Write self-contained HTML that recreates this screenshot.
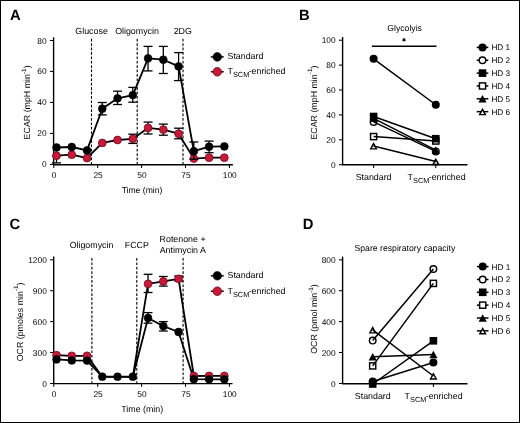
<!DOCTYPE html>
<html><head><meta charset="utf-8"><style>
html,body{margin:0;padding:0;background:#fff;}
svg{display:block;will-change:transform;}
text{font-family:"Liberation Sans",sans-serif;fill:#000;text-rendering:geometricPrecision;}
</style></head><body>
<svg width="520" height="423" viewBox="0 0 520 423">
<g>
<rect x="0" y="0" width="520" height="423" fill="#fff"/>
<text x="9.9" y="19.9" font-size="14.8" text-anchor="start" font-weight="bold" >A</text>
<line x1="53.6" y1="37.3" x2="53.6" y2="164.8" stroke="#000" stroke-width="1.4" />
<line x1="50.0" y1="40.5" x2="53.6" y2="40.5" stroke="#000" stroke-width="1.05" />
<text x="46.7" y="43.5" font-size="8.4" text-anchor="end" font-weight="normal" >80</text>
<line x1="50.0" y1="71.4" x2="53.6" y2="71.4" stroke="#000" stroke-width="1.05" />
<text x="46.7" y="74.4" font-size="8.4" text-anchor="end" font-weight="normal" >60</text>
<line x1="50.0" y1="102.4" x2="53.6" y2="102.4" stroke="#000" stroke-width="1.05" />
<text x="46.7" y="105.4" font-size="8.4" text-anchor="end" font-weight="normal" >40</text>
<line x1="50.0" y1="133.4" x2="53.6" y2="133.4" stroke="#000" stroke-width="1.05" />
<text x="46.7" y="136.4" font-size="8.4" text-anchor="end" font-weight="normal" >20</text>
<line x1="50.0" y1="164.4" x2="53.6" y2="164.4" stroke="#000" stroke-width="1.05" />
<text x="46.7" y="167.4" font-size="8.4" text-anchor="end" font-weight="normal" >0</text>
<line x1="53.0" y1="164.8" x2="232.9" y2="164.8" stroke="#000" stroke-width="1.4" />
<line x1="53.8" y1="164.8" x2="53.8" y2="168.0" stroke="#000" stroke-width="1.05" />
<text x="54.2" y="178.4" font-size="8.4" text-anchor="middle" font-weight="normal" >0</text>
<line x1="97.7" y1="164.8" x2="97.7" y2="168.0" stroke="#000" stroke-width="1.05" />
<text x="98.1" y="178.4" font-size="8.4" text-anchor="middle" font-weight="normal" >25</text>
<line x1="141.6" y1="164.8" x2="141.6" y2="168.0" stroke="#000" stroke-width="1.05" />
<text x="142.0" y="178.4" font-size="8.4" text-anchor="middle" font-weight="normal" >50</text>
<line x1="185.5" y1="164.8" x2="185.5" y2="168.0" stroke="#000" stroke-width="1.05" />
<text x="185.9" y="178.4" font-size="8.4" text-anchor="middle" font-weight="normal" >75</text>
<line x1="229.4" y1="164.8" x2="229.4" y2="168.0" stroke="#000" stroke-width="1.05" />
<text x="229.8" y="178.4" font-size="8.4" text-anchor="middle" font-weight="normal" >100</text>
<text x="142.0" y="193.0" font-size="8.6" text-anchor="middle" font-weight="normal" >Time (min)</text>
<text transform="translate(30.2,102.4) rotate(-90)" font-size="8.85" text-anchor="middle">ECAR (mpH min<tspan font-size="6.4" dy="-4.5">-1</tspan><tspan dy="4.5">)</tspan></text>
<line x1="91.5" y1="38.8" x2="91.5" y2="164" stroke="#000" stroke-width="1.1" stroke-dasharray="2.7 1.7"/>
<line x1="137.2" y1="38.8" x2="137.2" y2="164" stroke="#000" stroke-width="1.1" stroke-dasharray="2.7 1.7"/>
<line x1="183.0" y1="38.8" x2="183.0" y2="164" stroke="#000" stroke-width="1.1" stroke-dasharray="2.7 1.7"/>
<text x="91.6" y="33.6" font-size="8.85" text-anchor="middle" font-weight="normal" >Glucose</text>
<text x="137.0" y="33.6" font-size="8.85" text-anchor="middle" font-weight="normal" >Oligomycin</text>
<text x="182.8" y="33.6" font-size="8.85" text-anchor="middle" font-weight="normal" >2DG</text>
<polyline points="56.5,155.7 71.76,154.7 87.02,158.1 102.28,142.9 117.54,140.0 132.8,138.8 148.06,127.9 163.32,129.6 178.58,133.7 193.84,158.6 209.1,157.7 224.36,157.7" fill="none" stroke="#000" stroke-width="1.8" stroke-linejoin="round"/>
<line x1="56.5" y1="155.7" x2="56.5" y2="162.9" stroke="#000" stroke-width="1.3" />
<line x1="52.0" y1="155.7" x2="61.0" y2="155.7" stroke="#000" stroke-width="1.3" />
<line x1="52.0" y1="162.9" x2="61.0" y2="162.9" stroke="#000" stroke-width="1.3" />
<line x1="132.8" y1="134.2" x2="132.8" y2="143.4" stroke="#000" stroke-width="1.3" />
<line x1="128.3" y1="134.2" x2="137.3" y2="134.2" stroke="#000" stroke-width="1.3" />
<line x1="128.3" y1="143.4" x2="137.3" y2="143.4" stroke="#000" stroke-width="1.3" />
<line x1="148.06" y1="122.1" x2="148.06" y2="134.0" stroke="#000" stroke-width="1.3" />
<line x1="143.56" y1="122.1" x2="152.56" y2="122.1" stroke="#000" stroke-width="1.3" />
<line x1="143.56" y1="134.0" x2="152.56" y2="134.0" stroke="#000" stroke-width="1.3" />
<line x1="163.32" y1="124.1" x2="163.32" y2="135.2" stroke="#000" stroke-width="1.3" />
<line x1="158.82" y1="124.1" x2="167.82" y2="124.1" stroke="#000" stroke-width="1.3" />
<line x1="158.82" y1="135.2" x2="167.82" y2="135.2" stroke="#000" stroke-width="1.3" />
<line x1="178.58" y1="128.2" x2="178.58" y2="138.8" stroke="#000" stroke-width="1.3" />
<line x1="174.08" y1="128.2" x2="183.08" y2="128.2" stroke="#000" stroke-width="1.3" />
<line x1="174.08" y1="138.8" x2="183.08" y2="138.8" stroke="#000" stroke-width="1.3" />
<circle cx="56.5" cy="155.7" r="3.9" fill="#c8193a" stroke="#6e0a1a" stroke-width="0.8"/>
<circle cx="71.76" cy="154.7" r="3.9" fill="#c8193a" stroke="#6e0a1a" stroke-width="0.8"/>
<circle cx="87.02" cy="158.1" r="3.9" fill="#c8193a" stroke="#6e0a1a" stroke-width="0.8"/>
<circle cx="102.28" cy="142.9" r="3.9" fill="#c8193a" stroke="#6e0a1a" stroke-width="0.8"/>
<circle cx="117.54" cy="140.0" r="3.9" fill="#c8193a" stroke="#6e0a1a" stroke-width="0.8"/>
<circle cx="132.8" cy="138.8" r="3.9" fill="#c8193a" stroke="#6e0a1a" stroke-width="0.8"/>
<circle cx="148.06" cy="127.9" r="3.9" fill="#c8193a" stroke="#6e0a1a" stroke-width="0.8"/>
<circle cx="163.32" cy="129.6" r="3.9" fill="#c8193a" stroke="#6e0a1a" stroke-width="0.8"/>
<circle cx="178.58" cy="133.7" r="3.9" fill="#c8193a" stroke="#6e0a1a" stroke-width="0.8"/>
<circle cx="193.84" cy="158.6" r="3.9" fill="#c8193a" stroke="#6e0a1a" stroke-width="0.8"/>
<circle cx="209.1" cy="157.7" r="3.9" fill="#c8193a" stroke="#6e0a1a" stroke-width="0.8"/>
<circle cx="224.36" cy="157.7" r="3.9" fill="#c8193a" stroke="#6e0a1a" stroke-width="0.8"/>
<polyline points="56.5,147.5 71.76,147.0 87.02,150.4 102.28,108.7 117.54,98.3 132.8,95.1 148.06,58.3 163.32,59.7 178.58,66.4 193.84,151.2 209.1,146.7 224.36,146.4" fill="none" stroke="#000" stroke-width="1.8" stroke-linejoin="round"/>
<line x1="102.28" y1="102.5" x2="102.28" y2="114.9" stroke="#000" stroke-width="1.3" />
<line x1="97.78" y1="102.5" x2="106.78" y2="102.5" stroke="#000" stroke-width="1.3" />
<line x1="97.78" y1="114.9" x2="106.78" y2="114.9" stroke="#000" stroke-width="1.3" />
<line x1="117.54" y1="91.2" x2="117.54" y2="104.5" stroke="#000" stroke-width="1.3" />
<line x1="113.04" y1="91.2" x2="122.04" y2="91.2" stroke="#000" stroke-width="1.3" />
<line x1="113.04" y1="104.5" x2="122.04" y2="104.5" stroke="#000" stroke-width="1.3" />
<line x1="132.8" y1="87.4" x2="132.8" y2="102.2" stroke="#000" stroke-width="1.3" />
<line x1="128.3" y1="87.4" x2="137.3" y2="87.4" stroke="#000" stroke-width="1.3" />
<line x1="128.3" y1="102.2" x2="137.3" y2="102.2" stroke="#000" stroke-width="1.3" />
<line x1="148.06" y1="46.4" x2="148.06" y2="70.9" stroke="#000" stroke-width="1.3" />
<line x1="143.56" y1="46.4" x2="152.56" y2="46.4" stroke="#000" stroke-width="1.3" />
<line x1="143.56" y1="70.9" x2="152.56" y2="70.9" stroke="#000" stroke-width="1.3" />
<line x1="163.32" y1="46.4" x2="163.32" y2="73.5" stroke="#000" stroke-width="1.3" />
<line x1="158.82" y1="46.4" x2="167.82" y2="46.4" stroke="#000" stroke-width="1.3" />
<line x1="158.82" y1="73.5" x2="167.82" y2="73.5" stroke="#000" stroke-width="1.3" />
<line x1="178.58" y1="52.6" x2="178.58" y2="80.6" stroke="#000" stroke-width="1.3" />
<line x1="174.08" y1="52.6" x2="183.08" y2="52.6" stroke="#000" stroke-width="1.3" />
<line x1="174.08" y1="80.6" x2="183.08" y2="80.6" stroke="#000" stroke-width="1.3" />
<line x1="193.84" y1="142.0" x2="193.84" y2="159.2" stroke="#000" stroke-width="1.3" />
<line x1="189.34" y1="142.0" x2="198.34" y2="142.0" stroke="#000" stroke-width="1.3" />
<line x1="189.34" y1="159.2" x2="198.34" y2="159.2" stroke="#000" stroke-width="1.3" />
<line x1="209.1" y1="141.1" x2="209.1" y2="152.7" stroke="#000" stroke-width="1.3" />
<line x1="204.6" y1="141.1" x2="213.6" y2="141.1" stroke="#000" stroke-width="1.3" />
<line x1="204.6" y1="152.7" x2="213.6" y2="152.7" stroke="#000" stroke-width="1.3" />
<circle cx="56.5" cy="147.5" r="3.9" fill="#000" stroke="#000" stroke-width="0.6"/>
<circle cx="71.76" cy="147.0" r="3.9" fill="#000" stroke="#000" stroke-width="0.6"/>
<circle cx="87.02" cy="150.4" r="3.9" fill="#000" stroke="#000" stroke-width="0.6"/>
<circle cx="102.28" cy="108.7" r="3.9" fill="#000" stroke="#000" stroke-width="0.6"/>
<circle cx="117.54" cy="98.3" r="3.9" fill="#000" stroke="#000" stroke-width="0.6"/>
<circle cx="132.8" cy="95.1" r="3.9" fill="#000" stroke="#000" stroke-width="0.6"/>
<circle cx="148.06" cy="58.3" r="3.9" fill="#000" stroke="#000" stroke-width="0.6"/>
<circle cx="163.32" cy="59.7" r="3.9" fill="#000" stroke="#000" stroke-width="0.6"/>
<circle cx="178.58" cy="66.4" r="3.9" fill="#000" stroke="#000" stroke-width="0.6"/>
<circle cx="193.84" cy="151.2" r="3.9" fill="#000" stroke="#000" stroke-width="0.6"/>
<circle cx="209.1" cy="146.7" r="3.9" fill="#000" stroke="#000" stroke-width="0.6"/>
<circle cx="224.36" cy="146.4" r="3.9" fill="#000" stroke="#000" stroke-width="0.6"/>
<line x1="210.8" y1="56.9" x2="223.8" y2="56.9" stroke="#000" stroke-width="1.4" />
<circle cx="217.3" cy="56.9" r="4.3" fill="#000" stroke="#000" stroke-width="0.6"/>
<text x="227.5" y="59.4" font-size="8.85" text-anchor="start" font-weight="normal" >Standard</text>
<line x1="210.8" y1="71.8" x2="223.8" y2="71.8" stroke="#000" stroke-width="1.4" />
<circle cx="217.3" cy="71.8" r="4.3" fill="#c8193a" stroke="#6e0a1a" stroke-width="0.8"/>
<text x="227.5" y="74.4" font-size="8.85" text-anchor="start">T<tspan font-size="7.4" dy="3.0">SCM</tspan><tspan dy="-3.0" dx="-0.7">-enriched</tspan></text>
<text x="299.1" y="19.8" font-size="14.8" text-anchor="start" font-weight="bold" >B</text>
<line x1="342.6" y1="37.0" x2="342.6" y2="165.0" stroke="#000" stroke-width="1.4" />
<line x1="339.0" y1="40.2" x2="342.6" y2="40.2" stroke="#000" stroke-width="1.05" />
<text x="335.7" y="43.2" font-size="8.4" text-anchor="end" font-weight="normal" >100</text>
<line x1="339.0" y1="65.1" x2="342.6" y2="65.1" stroke="#000" stroke-width="1.05" />
<text x="335.7" y="68.1" font-size="8.4" text-anchor="end" font-weight="normal" >80</text>
<line x1="339.0" y1="90.0" x2="342.6" y2="90.0" stroke="#000" stroke-width="1.05" />
<text x="335.7" y="93.0" font-size="8.4" text-anchor="end" font-weight="normal" >60</text>
<line x1="339.0" y1="114.9" x2="342.6" y2="114.9" stroke="#000" stroke-width="1.05" />
<text x="335.7" y="117.9" font-size="8.4" text-anchor="end" font-weight="normal" >40</text>
<line x1="339.0" y1="139.8" x2="342.6" y2="139.8" stroke="#000" stroke-width="1.05" />
<text x="335.7" y="142.8" font-size="8.4" text-anchor="end" font-weight="normal" >20</text>
<line x1="339.0" y1="164.7" x2="342.6" y2="164.7" stroke="#000" stroke-width="1.05" />
<text x="335.7" y="167.7" font-size="8.4" text-anchor="end" font-weight="normal" >0</text>
<line x1="342.0" y1="164.7" x2="467.5" y2="164.7" stroke="#000" stroke-width="1.4" />
<line x1="373.6" y1="164.7" x2="373.6" y2="167.9" stroke="#000" stroke-width="1.05" />
<line x1="435.8" y1="164.7" x2="435.8" y2="167.9" stroke="#000" stroke-width="1.05" />
<text x="373.6" y="180.0" font-size="8.85" text-anchor="middle" font-weight="normal" >Standard</text>
<text x="407.6" y="180.0" font-size="8.85" text-anchor="start">T<tspan font-size="7.4" dy="3.0">SCM</tspan><tspan dy="-3.0" dx="-0.7">-enriched</tspan></text>
<text transform="translate(316.8,102.6) rotate(-90)" font-size="8.85" text-anchor="middle">ECAR (mpH min<tspan font-size="6.4" dy="-4.5">-1</tspan><tspan dy="4.5">)</tspan></text>
<text x="404.6" y="31.0" font-size="8.7" text-anchor="middle" font-weight="normal" >Glycolyis</text>
<line x1="371.8" y1="46.2" x2="436.5" y2="46.2" stroke="#000" stroke-width="1.4" />
<path d="M404,38.1 V41.5 M402.5,38.9 L405.5,40.7 M402.5,40.7 L405.5,38.9" stroke="#111" stroke-width="1.1"/>
<line x1="373.6" y1="58.8" x2="435.8" y2="104.75" stroke="#000" stroke-width="1.5" />
<line x1="373.6" y1="121.9" x2="435.8" y2="151.4" stroke="#000" stroke-width="1.5" />
<line x1="373.6" y1="116.5" x2="435.8" y2="138.7" stroke="#000" stroke-width="1.5" />
<line x1="373.6" y1="136.6" x2="435.8" y2="141.0" stroke="#000" stroke-width="1.5" />
<line x1="373.6" y1="118.3" x2="435.8" y2="150.2" stroke="#000" stroke-width="1.5" />
<line x1="373.6" y1="145.9" x2="435.8" y2="161.6" stroke="#000" stroke-width="1.5" />
<circle cx="373.6" cy="58.8" r="4.0" fill="#000"/>
<circle cx="435.8" cy="104.75" r="4.0" fill="#000"/>
<circle cx="373.6" cy="121.9" r="3.27" fill="none" stroke="#000" stroke-width="1.45"/>
<circle cx="435.8" cy="151.4" r="3.27" fill="none" stroke="#000" stroke-width="1.45"/>
<rect x="369.8" y="112.7" width="7.6" height="7.6" fill="#000"/>
<rect x="432.0" y="134.9" width="7.6" height="7.6" fill="#000"/>
<rect x="370.53" y="133.52" width="6.15" height="6.15" fill="none" stroke="#000" stroke-width="1.45"/>
<rect x="432.73" y="137.92" width="6.15" height="6.15" fill="none" stroke="#000" stroke-width="1.45"/>
<polygon points="373.6,114.5 377.7,122.0 369.5,122.0" fill="#000"/>
<polygon points="435.8,146.4 439.9,153.9 431.7,153.9" fill="#000"/>
<polygon points="373.6,143.62 376.43,148.88 370.77,148.88" fill="none" stroke="#000" stroke-width="1.45" stroke-linejoin="miter"/>
<polygon points="435.8,159.32 438.63,164.57 432.97,164.57" fill="none" stroke="#000" stroke-width="1.45" stroke-linejoin="miter"/>
<line x1="476.7" y1="47.4" x2="488.3" y2="47.4" stroke="#000" stroke-width="1.5" />
<circle cx="482.5" cy="47.4" r="4.0" fill="#000"/>
<text x="491.4" y="50.3" font-size="8.2" text-anchor="start" font-weight="normal" >HD 1</text>
<line x1="476.7" y1="60.25" x2="488.3" y2="60.25" stroke="#000" stroke-width="1.5" />
<circle cx="482.5" cy="60.25" r="3.27" fill="#fff" stroke="#000" stroke-width="1.45"/>
<text x="491.4" y="63.15" font-size="8.2" text-anchor="start" font-weight="normal" >HD 2</text>
<line x1="476.7" y1="73.1" x2="488.3" y2="73.1" stroke="#000" stroke-width="1.5" />
<rect x="478.7" y="69.3" width="7.6" height="7.6" fill="#000"/>
<text x="491.4" y="76.0" font-size="8.2" text-anchor="start" font-weight="normal" >HD 3</text>
<line x1="476.7" y1="85.95" x2="488.3" y2="85.95" stroke="#000" stroke-width="1.5" />
<rect x="479.43" y="82.87" width="6.15" height="6.15" fill="#fff" stroke="#000" stroke-width="1.45"/>
<text x="491.4" y="88.85" font-size="8.2" text-anchor="start" font-weight="normal" >HD 4</text>
<line x1="476.7" y1="98.8" x2="488.3" y2="98.8" stroke="#000" stroke-width="1.5" />
<polygon points="482.5,95.0 486.6,102.5 478.4,102.5" fill="#000"/>
<text x="491.4" y="101.7" font-size="8.2" text-anchor="start" font-weight="normal" >HD 5</text>
<line x1="476.7" y1="111.65" x2="488.3" y2="111.65" stroke="#000" stroke-width="1.5" />
<polygon points="482.5,109.37 485.33,114.63 479.67,114.63" fill="#fff" stroke="#000" stroke-width="1.45" stroke-linejoin="miter"/>
<text x="491.4" y="114.55" font-size="8.2" text-anchor="start" font-weight="normal" >HD 6</text>
<text x="9.4" y="229.2" font-size="14.8" text-anchor="start" font-weight="bold" >C</text>
<line x1="53.7" y1="256.6" x2="53.7" y2="383.8" stroke="#000" stroke-width="1.4" />
<line x1="50.1" y1="259.8" x2="53.7" y2="259.8" stroke="#000" stroke-width="1.05" />
<text x="46.8" y="262.8" font-size="8.4" text-anchor="end" font-weight="normal" >1200</text>
<line x1="50.1" y1="290.7" x2="53.7" y2="290.7" stroke="#000" stroke-width="1.05" />
<text x="46.8" y="293.7" font-size="8.4" text-anchor="end" font-weight="normal" >900</text>
<line x1="50.1" y1="321.6" x2="53.7" y2="321.6" stroke="#000" stroke-width="1.05" />
<text x="46.8" y="324.6" font-size="8.4" text-anchor="end" font-weight="normal" >600</text>
<line x1="50.1" y1="352.5" x2="53.7" y2="352.5" stroke="#000" stroke-width="1.05" />
<text x="46.8" y="355.5" font-size="8.4" text-anchor="end" font-weight="normal" >300</text>
<line x1="50.1" y1="383.5" x2="53.7" y2="383.5" stroke="#000" stroke-width="1.05" />
<text x="46.8" y="386.5" font-size="8.4" text-anchor="end" font-weight="normal" >0</text>
<line x1="53.4" y1="383.6" x2="232.5" y2="383.6" stroke="#000" stroke-width="1.4" />
<line x1="53.8" y1="383.6" x2="53.8" y2="386.8" stroke="#000" stroke-width="1.05" />
<text x="54.2" y="397.2" font-size="8.4" text-anchor="middle" font-weight="normal" >0</text>
<line x1="97.7" y1="383.6" x2="97.7" y2="386.8" stroke="#000" stroke-width="1.05" />
<text x="98.1" y="397.2" font-size="8.4" text-anchor="middle" font-weight="normal" >25</text>
<line x1="141.6" y1="383.6" x2="141.6" y2="386.8" stroke="#000" stroke-width="1.05" />
<text x="142.0" y="397.2" font-size="8.4" text-anchor="middle" font-weight="normal" >50</text>
<line x1="185.5" y1="383.6" x2="185.5" y2="386.8" stroke="#000" stroke-width="1.05" />
<text x="185.9" y="397.2" font-size="8.4" text-anchor="middle" font-weight="normal" >75</text>
<line x1="229.4" y1="383.6" x2="229.4" y2="386.8" stroke="#000" stroke-width="1.05" />
<text x="229.8" y="397.2" font-size="8.4" text-anchor="middle" font-weight="normal" >100</text>
<text x="142.2" y="412.3" font-size="8.85" text-anchor="middle" font-weight="normal" >Time (min)</text>
<text transform="translate(22.6,321.9) rotate(-90)" font-size="8.85" text-anchor="middle">OCR (pmoles min<tspan font-size="6.4" dy="-4.5">-1</tspan><tspan dy="4.5">)</tspan></text>
<line x1="91.9" y1="258" x2="91.9" y2="383" stroke="#000" stroke-width="1.1" stroke-dasharray="2.7 1.7"/>
<line x1="136.8" y1="258" x2="136.8" y2="383" stroke="#000" stroke-width="1.1" stroke-dasharray="2.7 1.7"/>
<line x1="183.1" y1="258" x2="183.1" y2="383" stroke="#000" stroke-width="1.1" stroke-dasharray="2.7 1.7"/>
<text x="91.5" y="247.7" font-size="8.85" text-anchor="middle" font-weight="normal" >Oligomycin</text>
<text x="136.8" y="247.7" font-size="8.85" text-anchor="middle" font-weight="normal" >FCCP</text>
<text x="182.6" y="242.4" font-size="8.85" text-anchor="middle" font-weight="normal" >Rotenone +</text>
<text x="182.8" y="252.9" font-size="8.85" text-anchor="middle" font-weight="normal" >Antimycin A</text>
<line x1="148.06" y1="312.6" x2="148.06" y2="323.2" stroke="#000" stroke-width="1.3" />
<line x1="143.66" y1="312.6" x2="152.46" y2="312.6" stroke="#000" stroke-width="1.3" />
<line x1="143.66" y1="323.2" x2="152.46" y2="323.2" stroke="#000" stroke-width="1.3" />
<line x1="163.32" y1="321.6" x2="163.32" y2="331.0" stroke="#000" stroke-width="1.3" />
<line x1="158.92" y1="321.6" x2="167.72" y2="321.6" stroke="#000" stroke-width="1.3" />
<line x1="158.92" y1="331.0" x2="167.72" y2="331.0" stroke="#000" stroke-width="1.3" />
<line x1="148.06" y1="274.3" x2="148.06" y2="292.5" stroke="#000" stroke-width="1.3" />
<line x1="143.66" y1="274.3" x2="152.46" y2="274.3" stroke="#000" stroke-width="1.3" />
<line x1="143.66" y1="292.5" x2="152.46" y2="292.5" stroke="#000" stroke-width="1.3" />
<line x1="163.32" y1="276.5" x2="163.32" y2="286.1" stroke="#000" stroke-width="1.3" />
<line x1="158.92" y1="276.5" x2="167.72" y2="276.5" stroke="#000" stroke-width="1.3" />
<line x1="158.92" y1="286.1" x2="167.72" y2="286.1" stroke="#000" stroke-width="1.3" />
<line x1="178.58" y1="276" x2="178.58" y2="281" stroke="#000" stroke-width="1.3" />
<line x1="174.18" y1="276" x2="182.98" y2="276" stroke="#000" stroke-width="1.3" />
<line x1="174.18" y1="281" x2="182.98" y2="281" stroke="#000" stroke-width="1.3" />
<polyline points="56.5,355.2 71.76,355.8 87.02,355.8 102.28,376.8 117.54,376.8 132.8,376.8 148.06,283.8 163.32,281.4 178.58,278.8 193.84,376.0 209.1,375.9 224.36,375.9" fill="none" stroke="#000" stroke-width="1.8" stroke-linejoin="round"/>
<polyline points="56.5,359.4 71.76,360.4 87.02,360.6 102.28,376.7 117.54,376.7 132.8,376.7 148.06,318.0 163.32,326.1 178.58,332.0 193.84,379.2 209.1,379.3 224.36,379.3" fill="none" stroke="#000" stroke-width="1.8" stroke-linejoin="round"/>
<circle cx="56.5" cy="355.2" r="3.9" fill="#c8193a" stroke="#6e0a1a" stroke-width="0.8"/>
<circle cx="71.76" cy="355.8" r="3.9" fill="#c8193a" stroke="#6e0a1a" stroke-width="0.8"/>
<circle cx="87.02" cy="355.8" r="3.9" fill="#c8193a" stroke="#6e0a1a" stroke-width="0.8"/>
<circle cx="148.06" cy="283.8" r="3.9" fill="#c8193a" stroke="#6e0a1a" stroke-width="0.8"/>
<circle cx="163.32" cy="281.4" r="3.9" fill="#c8193a" stroke="#6e0a1a" stroke-width="0.8"/>
<circle cx="178.58" cy="278.8" r="3.9" fill="#c8193a" stroke="#6e0a1a" stroke-width="0.8"/>
<circle cx="193.84" cy="376.0" r="3.9" fill="#c8193a" stroke="#6e0a1a" stroke-width="0.8"/>
<circle cx="209.1" cy="375.9" r="3.9" fill="#c8193a" stroke="#6e0a1a" stroke-width="0.8"/>
<circle cx="224.36" cy="375.9" r="3.9" fill="#c8193a" stroke="#6e0a1a" stroke-width="0.8"/>
<circle cx="56.5" cy="359.4" r="3.9" fill="#000" stroke="#000" stroke-width="0.6"/>
<circle cx="71.76" cy="360.4" r="3.9" fill="#000" stroke="#000" stroke-width="0.6"/>
<circle cx="87.02" cy="360.6" r="3.9" fill="#000" stroke="#000" stroke-width="0.6"/>
<circle cx="102.28" cy="376.7" r="3.9" fill="#000" stroke="#000" stroke-width="0.6"/>
<circle cx="117.54" cy="376.7" r="3.9" fill="#000" stroke="#000" stroke-width="0.6"/>
<circle cx="132.8" cy="376.7" r="3.9" fill="#000" stroke="#000" stroke-width="0.6"/>
<circle cx="148.06" cy="318.0" r="3.9" fill="#000" stroke="#000" stroke-width="0.6"/>
<circle cx="163.32" cy="326.1" r="3.9" fill="#000" stroke="#000" stroke-width="0.6"/>
<circle cx="178.58" cy="332.0" r="3.9" fill="#000" stroke="#000" stroke-width="0.6"/>
<circle cx="193.84" cy="379.2" r="3.9" fill="#000" stroke="#000" stroke-width="0.6"/>
<circle cx="209.1" cy="379.3" r="3.9" fill="#000" stroke="#000" stroke-width="0.6"/>
<circle cx="224.36" cy="379.3" r="3.9" fill="#000" stroke="#000" stroke-width="0.6"/>
<line x1="210.8" y1="275.8" x2="223.8" y2="275.8" stroke="#000" stroke-width="1.4" />
<circle cx="217.3" cy="275.8" r="4.3" fill="#000" stroke="#000" stroke-width="0.6"/>
<text x="227.5" y="278.3" font-size="8.85" text-anchor="start" font-weight="normal" >Standard</text>
<line x1="210.8" y1="291.2" x2="223.8" y2="291.2" stroke="#000" stroke-width="1.4" />
<circle cx="217.3" cy="291.2" r="4.3" fill="#c8193a" stroke="#6e0a1a" stroke-width="0.8"/>
<text x="227.5" y="293.8" font-size="8.85" text-anchor="start">T<tspan font-size="7.4" dy="3.0">SCM</tspan><tspan dy="-3.0" dx="-0.7">-enriched</tspan></text>
<text x="302.7" y="228.9" font-size="14.8" text-anchor="start" font-weight="bold" >D</text>
<line x1="342.6" y1="256.6" x2="342.6" y2="383.8" stroke="#000" stroke-width="1.4" />
<line x1="339.0" y1="259.8" x2="342.6" y2="259.8" stroke="#000" stroke-width="1.05" />
<text x="335.7" y="262.8" font-size="8.4" text-anchor="end" font-weight="normal" >800</text>
<line x1="339.0" y1="290.7" x2="342.6" y2="290.7" stroke="#000" stroke-width="1.05" />
<text x="335.7" y="293.7" font-size="8.4" text-anchor="end" font-weight="normal" >600</text>
<line x1="339.0" y1="321.6" x2="342.6" y2="321.6" stroke="#000" stroke-width="1.05" />
<text x="335.7" y="324.6" font-size="8.4" text-anchor="end" font-weight="normal" >400</text>
<line x1="339.0" y1="352.5" x2="342.6" y2="352.5" stroke="#000" stroke-width="1.05" />
<text x="335.7" y="355.5" font-size="8.4" text-anchor="end" font-weight="normal" >200</text>
<line x1="339.0" y1="383.5" x2="342.6" y2="383.5" stroke="#000" stroke-width="1.05" />
<text x="335.7" y="386.5" font-size="8.4" text-anchor="end" font-weight="normal" >0</text>
<line x1="342.2" y1="383.8" x2="467.5" y2="383.8" stroke="#000" stroke-width="1.4" />
<line x1="372.7" y1="383.8" x2="372.7" y2="387.0" stroke="#000" stroke-width="1.05" />
<line x1="433.4" y1="383.8" x2="433.4" y2="387.0" stroke="#000" stroke-width="1.05" />
<text x="372.8" y="399.2" font-size="8.85" text-anchor="middle" font-weight="normal" >Standard</text>
<text x="404.6" y="399.2" font-size="8.85" text-anchor="start">T<tspan font-size="7.4" dy="3.0">SCM</tspan><tspan dy="-3.0" dx="-0.7">-enriched</tspan></text>
<text transform="translate(317.4,319.0) rotate(-90)" font-size="8.85" text-anchor="middle">OCR (pmol min<tspan font-size="6.4" dy="-4.5">-1</tspan><tspan dy="4.5">)</tspan></text>
<text x="404.9" y="250.8" font-size="8.68" text-anchor="middle" font-weight="normal" >Spare respiratory capacity</text>
<line x1="372.7" y1="381.5" x2="433.4" y2="362.5" stroke="#000" stroke-width="1.5" />
<line x1="372.7" y1="340.6" x2="433.4" y2="269.0" stroke="#000" stroke-width="1.5" />
<line x1="372.7" y1="384.0" x2="433.4" y2="340.8" stroke="#000" stroke-width="1.5" />
<line x1="372.7" y1="365.9" x2="433.4" y2="283.4" stroke="#000" stroke-width="1.5" />
<line x1="372.7" y1="356.7" x2="433.4" y2="354.6" stroke="#000" stroke-width="1.5" />
<line x1="372.7" y1="329.9" x2="433.4" y2="376.0" stroke="#000" stroke-width="1.5" />
<circle cx="372.7" cy="381.5" r="4.0" fill="#000"/>
<circle cx="433.4" cy="362.5" r="4.0" fill="#000"/>
<circle cx="372.7" cy="340.6" r="3.27" fill="none" stroke="#000" stroke-width="1.45"/>
<circle cx="433.4" cy="269.0" r="3.27" fill="none" stroke="#000" stroke-width="1.45"/>
<rect x="368.9" y="380.2" width="7.6" height="7.6" fill="#000"/>
<rect x="429.6" y="337.0" width="7.6" height="7.6" fill="#000"/>
<rect x="369.62" y="362.82" width="6.15" height="6.15" fill="none" stroke="#000" stroke-width="1.45"/>
<rect x="430.32" y="280.32" width="6.15" height="6.15" fill="none" stroke="#000" stroke-width="1.45"/>
<polygon points="372.7,352.9 376.8,360.4 368.6,360.4" fill="#000"/>
<polygon points="433.4,350.8 437.5,358.3 429.3,358.3" fill="#000"/>
<polygon points="372.7,327.62 375.53,332.87 369.87,332.87" fill="none" stroke="#000" stroke-width="1.45" stroke-linejoin="miter"/>
<polygon points="433.4,373.72 436.23,378.97 430.57,378.97" fill="none" stroke="#000" stroke-width="1.45" stroke-linejoin="miter"/>
<line x1="476.9" y1="266.6" x2="488.5" y2="266.6" stroke="#000" stroke-width="1.5" />
<circle cx="482.7" cy="266.6" r="4.0" fill="#000"/>
<text x="491.6" y="269.5" font-size="8.2" text-anchor="start" font-weight="normal" >HD 1</text>
<line x1="476.9" y1="279.45" x2="488.5" y2="279.45" stroke="#000" stroke-width="1.5" />
<circle cx="482.7" cy="279.45" r="3.27" fill="#fff" stroke="#000" stroke-width="1.45"/>
<text x="491.6" y="282.35" font-size="8.2" text-anchor="start" font-weight="normal" >HD 2</text>
<line x1="476.9" y1="292.3" x2="488.5" y2="292.3" stroke="#000" stroke-width="1.5" />
<rect x="478.9" y="288.5" width="7.6" height="7.6" fill="#000"/>
<text x="491.6" y="295.2" font-size="8.2" text-anchor="start" font-weight="normal" >HD 3</text>
<line x1="476.9" y1="305.15" x2="488.5" y2="305.15" stroke="#000" stroke-width="1.5" />
<rect x="479.62" y="302.08" width="6.15" height="6.15" fill="#fff" stroke="#000" stroke-width="1.45"/>
<text x="491.6" y="308.05" font-size="8.2" text-anchor="start" font-weight="normal" >HD 4</text>
<line x1="476.9" y1="318.0" x2="488.5" y2="318.0" stroke="#000" stroke-width="1.5" />
<polygon points="482.7,314.2 486.8,321.7 478.6,321.7" fill="#000"/>
<text x="491.6" y="320.9" font-size="8.2" text-anchor="start" font-weight="normal" >HD 5</text>
<line x1="476.9" y1="330.85" x2="488.5" y2="330.85" stroke="#000" stroke-width="1.5" />
<polygon points="482.7,328.57 485.53,333.82 479.87,333.82" fill="#fff" stroke="#000" stroke-width="1.45" stroke-linejoin="miter"/>
<text x="491.6" y="333.75" font-size="8.2" text-anchor="start" font-weight="normal" >HD 6</text>
<rect x="0.5" y="0.5" width="519" height="422" fill="none" stroke="#000" stroke-width="1"/>
</g>
</svg>
</body></html>
